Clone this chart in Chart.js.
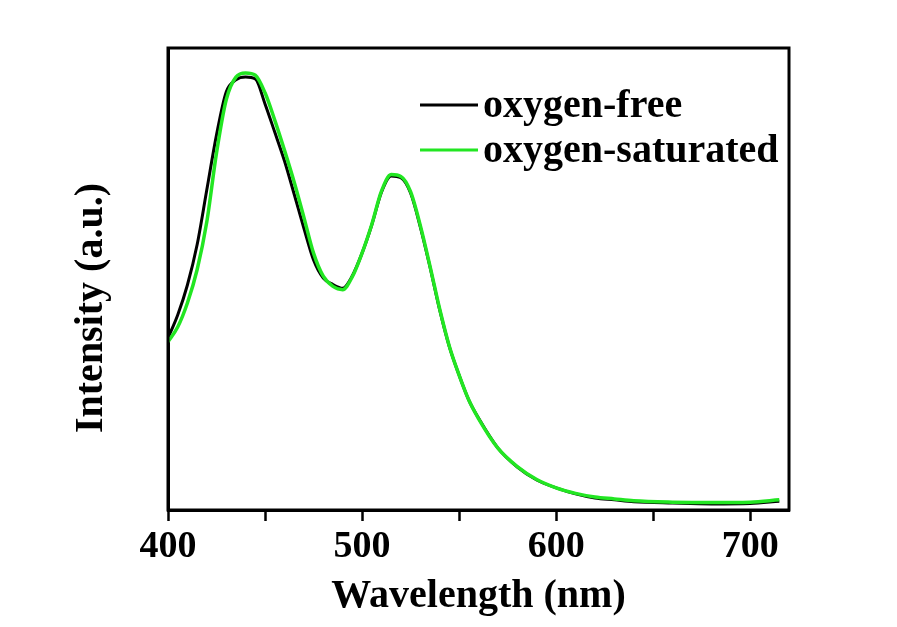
<!DOCTYPE html>
<html>
<head>
<meta charset="utf-8">
<script src="https://cdn.jsdelivr.net/npm/chart.js@4.4.1/dist/chart.umd.min.js"></script>
<style>
  html, body { margin: 0; padding: 0; background: #ffffff; }
  #wrap { width: 897px; height: 627px; }
</style>
</head>
<body>
<div id="wrap"><canvas id="c" width="897" height="627"></canvas></div>
<script>
// ---- data ----
const wavelengths = [400,405,410,415,420,425,430,435,440,445,450,455,460,465,470,475,480,485,490,495,500,505,510,515,520,525,530,535,540,545,550,555,560,570,580,590,600,610,620,630,640,660,680,700,715];
const oxygenFree = [372,422,487,574,693,812,905,931,937,933,879,818,756,684,610,541,502,488,480,507,556,617,688,723,719,686,613,526,433,353,292,238,199,134,93,65,48,35,26,22,18,15,13,14,19];
const oxygenSaturated = [364,396,448,520,624,773,888,937,946,941,903,844,779,710,634,556,506,484,477,505,556,618,690,726,722,689,616,528,435,354,292,238,198,134,94,66,48,36,28,24,20,17,16,17,22];
const seriesLabels = ["oxygen-free", "oxygen-saturated"];
const xTickValues = [400, 500, 600, 700];
const xTitle = "Wavelength (nm)";
const yTitle = "Intensity (a.u.)";

const FONT = "'Liberation Serif', 'Times New Roman', serif";

function toPoints(xs, ys) { return xs.map((x, i) => ({ x: x, y: ys[i] })); }

const framePlugin = {
  id: 'frame',
  afterDraw(chart) {
    const { ctx, chartArea: a } = chart;
    ctx.save();
    ctx.strokeStyle = '#000';
    ctx.lineWidth = 3;
    ctx.strokeRect(a.left, a.top, a.right - a.left, a.bottom - a.top);
    // y title
    ctx.fillStyle = '#000';
    ctx.font = "bold 40px " + FONT;
    ctx.textAlign = 'center';
    ctx.textBaseline = 'middle';
    ctx.translate(92, 308);
    ctx.rotate(-Math.PI / 2);
    ctx.fillText(yTitle, 0, 0);
    ctx.restore();

    // legend
    ctx.save();
    const rows = [105, 150];
    chart.data.datasets.forEach((ds, i) => {
      const y = rows[i];
      ctx.strokeStyle = ds.borderColor;
      ctx.lineWidth = 3;
      ctx.beginPath();
      ctx.moveTo(420, y);
      ctx.lineTo(478, y);
      ctx.stroke();
      ctx.fillStyle = '#000';
      ctx.font = "bold 40px " + FONT;
      ctx.textAlign = 'left';
      ctx.textBaseline = 'alphabetic';
      ctx.fillText(ds.label, 483, y + 12);
    });
    ctx.restore();
  }
};

new Chart(document.getElementById('c'), {
  type: 'line',
  data: {
    datasets: [
      { label: seriesLabels[0], order: 1, data: toPoints(wavelengths, oxygenFree), borderColor: '#000000', borderWidth: 3, pointRadius: 0, cubicInterpolationMode: 'monotone', fill: false },
      { label: seriesLabels[1], order: 0, data: toPoints(wavelengths, oxygenSaturated), borderColor: '#22e622', borderWidth: 3.5, pointRadius: 0, cubicInterpolationMode: 'monotone', fill: false }
    ]
  },
  options: {
    responsive: false,
    animation: false,
    layout: { padding: { left: 0, right: 108, top: 48, bottom: 0 } },
    plugins: { legend: { display: false }, tooltip: { enabled: false } },
    scales: {
      x: {
        type: 'linear',
        min: 400, max: 720,
        afterFit(s) { s.height = 117; },
        border: { display: true, color: '#000', width: 3 },
        grid: { display: true, drawOnChartArea: false, drawTicks: true, tickLength: 11, tickWidth: 2.5, tickColor: '#000', color: '#000' },
        ticks: {
          stepSize: 50,
          includeBounds: false,
          maxRotation: 0,
          autoSkip: false,
          padding: 3,
          color: '#000',
          font: { family: FONT, size: 38, weight: 'bold' },
          callback: (v) => xTickValues.includes(v) ? String(v) : ''
        },
        title: {
          display: true, text: xTitle, color: '#000',
          font: { family: FONT, size: 40, weight: 'bold' },
          padding: { top: 0, bottom: 6 }
        }
      },
      y: {
        type: 'linear',
        min: 0, max: 1000,
        afterFit(s) { s.width = 168; },
        border: { display: true, color: '#000', width: 3 },
        grid: { display: false },
        ticks: { display: false },
        title: { display: false }
      }
    }
  },
  plugins: [framePlugin]
});
</script>
</body>
</html>
